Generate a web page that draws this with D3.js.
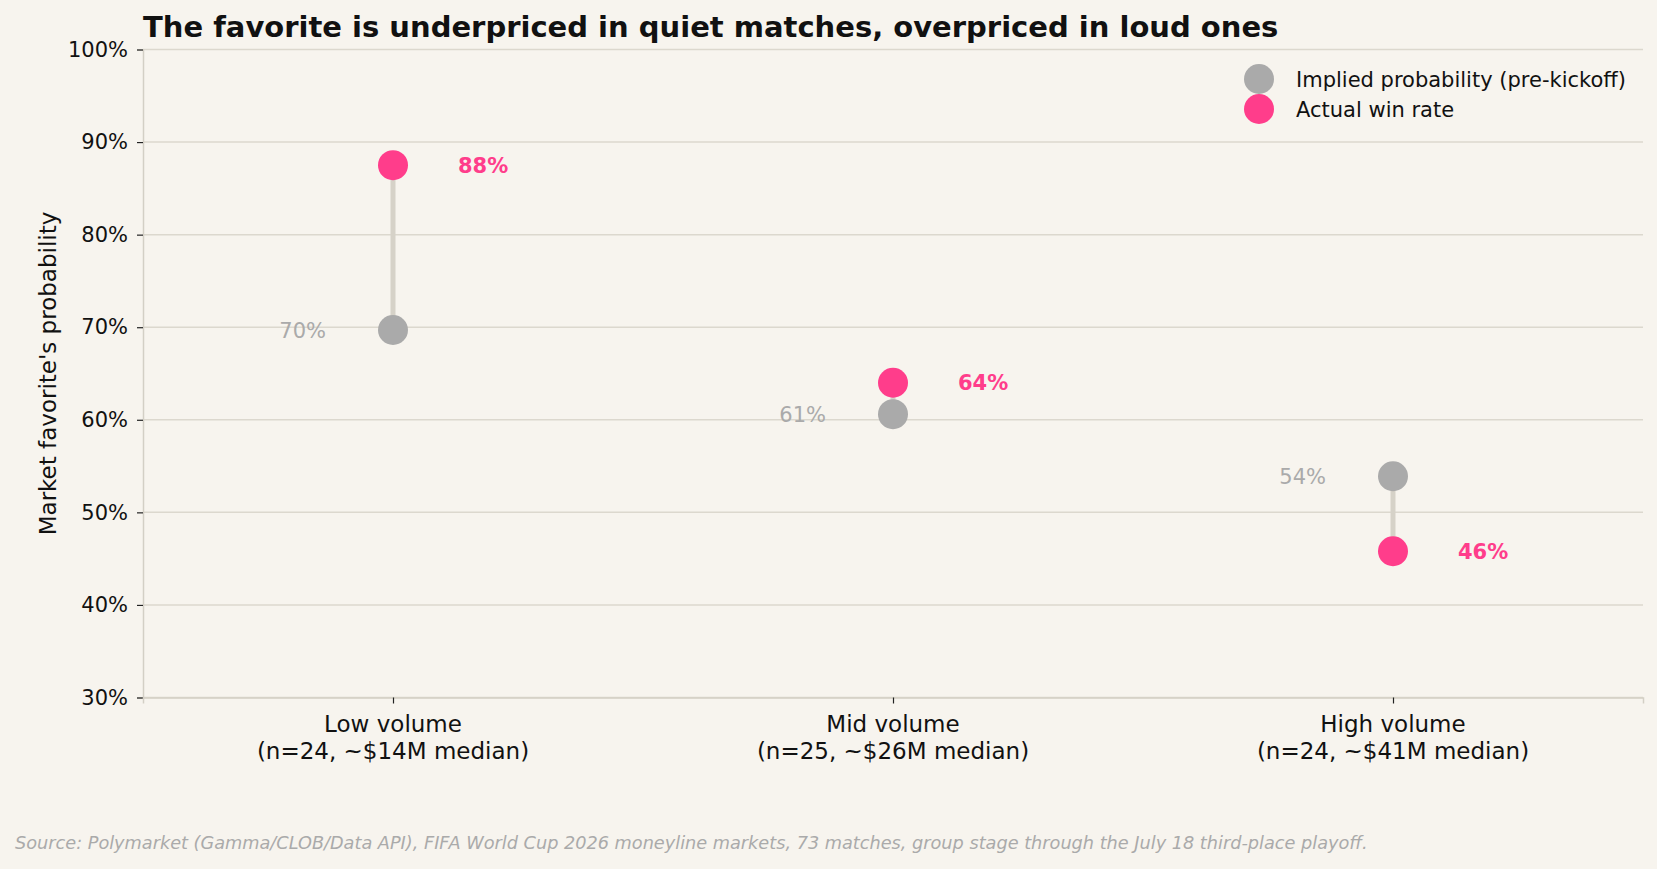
<!DOCTYPE html>
<html>
<head>
<meta charset="utf-8">
<script src="https://cdn.jsdelivr.net/npm/d3@7"></script>
<style>
  html, body { margin: 0; padding: 0; background: #f7f4ee; }
  svg { display: block; font-family: "DejaVu Sans", sans-serif; }
</style>
</head>
<body>
<script>
// data
const categories = ["Low volume", "Mid volume", "High volume"];
const subLabels = ["(n=24, ~$14M median)", "(n=25, ~$26M median)", "(n=24, ~$41M median)"];
const implied = [0.697, 0.606, 0.539];
const actual = [0.875, 0.640, 0.458];
const yTicks = [0.3, 0.4, 0.5, 0.6, 0.7, 0.8, 0.9, 1.0];

const width = 1657, height = 869;
const grey = "#aaaaaa", pink = "#ff3d8b";

const svg = d3.select("body").append("svg")
    .attr("width", width)
    .attr("height", height);

svg.append("rect").attr("width", width).attr("height", height).attr("fill", "#f7f4ee");

const x = d3.scaleLinear().domain([-0.5, 2.5]).range([143, 1643]);
const y = d3.scaleLinear().domain([0.3, 1.0]).range([697.5, 49.5]);

// grid
svg.append("g")
  .selectAll("line")
  .data(yTicks)
  .join("line")
    .attr("x1", x(-0.5)).attr("x2", x(2.5))
    .attr("y1", d => y(d)).attr("y2", d => y(d))
    .attr("stroke", "#dcd8ce")
    .attr("stroke-width", 1.5);

// y axis
const yAxis = svg.append("g")
    .attr("transform", `translate(${x(-0.5)},0)`)
    .call(d3.axisLeft(y).tickValues(yTicks).tickFormat(d3.format(".0%")).tickSize(6).tickPadding(9));
yAxis.select(".domain").attr("stroke", "#d3cfc5").attr("stroke-width", 1.5);
yAxis.selectAll(".tick line").attr("stroke", "#222").attr("stroke-width", 1.2);
yAxis.selectAll(".tick text")
    .attr("font-size", 21).attr("fill", "#111").attr("font-family", "DejaVu Sans");

// x axis
const xAxis = svg.append("g")
    .attr("transform", `translate(0,${y(0.3)})`)
    .call(d3.axisBottom(x).tickValues([0, 1, 2]).tickFormat("").tickSize(6));
xAxis.select(".domain").attr("stroke", "#d3cfc5").attr("stroke-width", 1.5);
xAxis.selectAll(".tick line").attr("stroke", "#222").attr("stroke-width", 1.2);

const catLabels = svg.append("g")
  .selectAll("text")
  .data(categories)
  .join("text")
    .attr("x", (d, i) => x(i))
    .attr("y", 732)
    .attr("text-anchor", "middle")
    .attr("font-size", 23)
    .attr("fill", "#111");
catLabels.append("tspan").attr("x", (d, i) => x(i)).text(d => d);
catLabels.append("tspan").attr("x", (d, i) => x(i)).attr("dy", 27).text((d, i) => subLabels[i]);

// connectors
svg.append("g")
  .selectAll("line")
  .data(categories)
  .join("line")
    .attr("x1", (d, i) => x(i)).attr("x2", (d, i) => x(i))
    .attr("y1", (d, i) => y(implied[i])).attr("y2", (d, i) => y(actual[i]))
    .attr("stroke", "#d6d2c8")
    .attr("stroke-width", 5);

// dots
svg.append("g")
  .selectAll("circle")
  .data(implied)
  .join("circle")
    .attr("cx", (d, i) => x(i)).attr("cy", d => y(d))
    .attr("r", 15).attr("fill", grey);
svg.append("g")
  .selectAll("circle")
  .data(actual)
  .join("circle")
    .attr("cx", (d, i) => x(i)).attr("cy", d => y(d))
    .attr("r", 15).attr("fill", pink);

// value labels
const pct = d3.format(".0%");
svg.append("g")
  .selectAll("text")
  .data(implied)
  .join("text")
    .attr("x", (d, i) => x(i) - 67).attr("y", d => y(d))
    .attr("dy", "0.36em")
    .attr("text-anchor", "end")
    .attr("font-size", 21).attr("fill", grey)
    .text(d => pct(d));
svg.append("g")
  .selectAll("text")
  .data(actual)
  .join("text")
    .attr("x", (d, i) => x(i) + 65).attr("y", d => y(d))
    .attr("dy", "0.36em")
    .attr("font-size", 21).attr("font-weight", "bold").attr("fill", pink)
    .text(d => pct(d));

// y label
svg.append("text")
    .attr("transform", `translate(55.5,${(y(0.3) + y(1)) / 2}) rotate(-90)`)
    .attr("text-anchor", "middle")
    .attr("font-size", 23).attr("fill", "#111")
    .text("Market favorite's probability");

// title
svg.append("text")
    .attr("x", 143).attr("y", 37)
    .attr("font-size", 29).attr("font-weight", "bold").attr("fill", "#111")
    .text("The favorite is underpriced in quiet matches, overpriced in loud ones");

// legend
const legend = svg.append("g");
[["Implied probability (pre-kickoff)", grey], ["Actual win rate", pink]].forEach(([label, c], i) => {
  legend.append("circle").attr("cx", 1259).attr("cy", 79 + i * 30).attr("r", 15).attr("fill", c);
  legend.append("text").attr("x", 1296).attr("y", 79 + i * 30).attr("dy", "0.36em")
      .attr("font-size", 21).attr("fill", "#111").text(label);
});

// source
svg.append("text")
    .attr("x", 15).attr("y", 849)
    .attr("font-size", 17.7).attr("font-style", "italic").attr("fill", "#aaaaaa")
    .text("Source: Polymarket (Gamma/CLOB/Data API), FIFA World Cup 2026 moneyline markets, 73 matches, group stage through the July 18 third-place playoff.");
</script>
</body>
</html>
